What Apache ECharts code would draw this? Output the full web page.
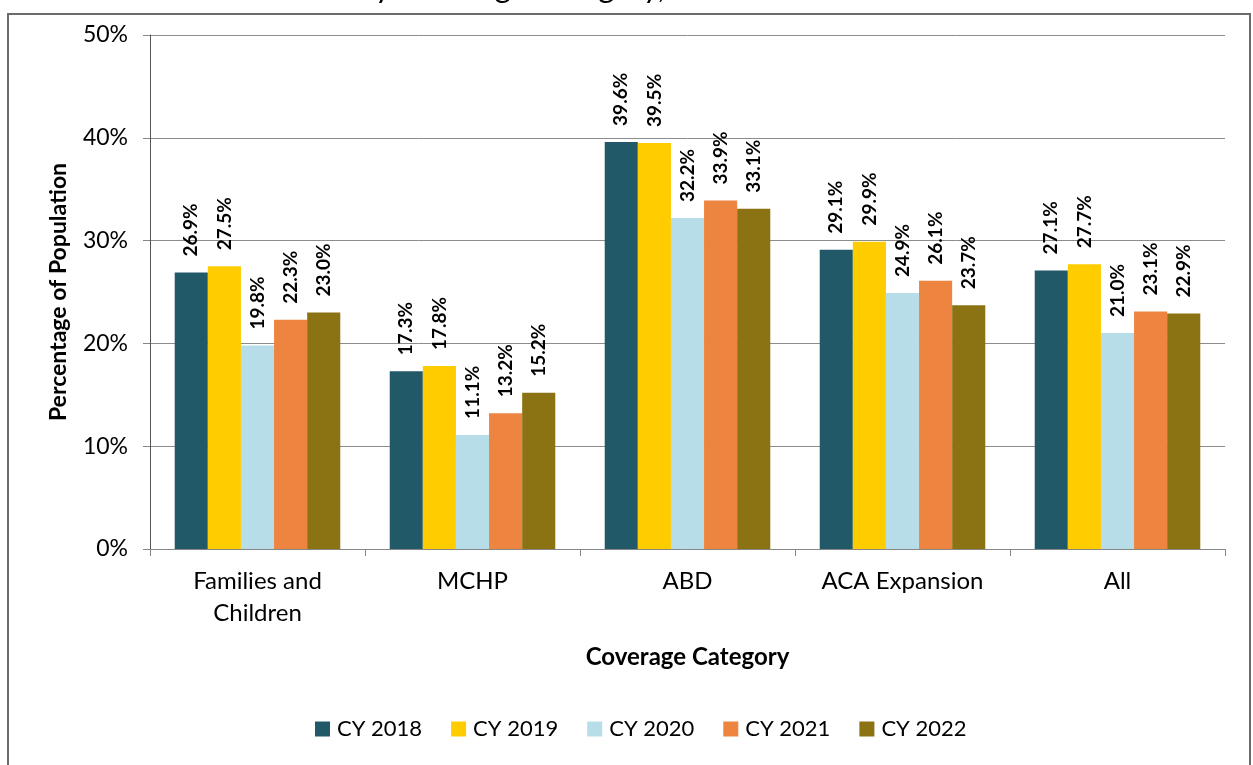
<!DOCTYPE html>
<html style="height: 100%">
   <head>
       <meta charset="utf-8">
   </head>
   <body style="height: 100%; margin: 0; background: #fff">
       <div id="container" style="width: 1253px; height: 765px"></div>
       <script type="text/javascript" src="https://cdn.jsdelivr.net/npm/echarts@6/dist/echarts.min.js"></script>
       <script type="text/javascript">
var categories = ['Families and\nChildren', 'MCHP', 'ABD', 'ACA Expansion', 'All'];
var years = ['CY 2018', 'CY 2019', 'CY 2020', 'CY 2021', 'CY 2022'];
var colors = ['#215968', '#FFCC00', '#B7DEE8', '#ED843F', '#8B7213'];
// values per year, one per category (percent)
var cy2018 = [26.9, 17.3, 39.6, 29.1, 27.1];
var cy2019 = [27.5, 17.8, 39.5, 29.9, 27.7];
var cy2020 = [19.8, 11.1, 32.2, 24.9, 21.0];
var cy2021 = [22.3, 13.2, 33.9, 26.1, 23.1];
var cy2022 = [23.0, 15.2, 33.1, 23.7, 22.9];
var values = [cy2018, cy2019, cy2020, cy2021, cy2022];

var font = 'Lato, "Open Sans", sans-serif';
var dom = document.getElementById("container");
var myChart = echarts.init(dom);

var series = [];
for (var i = 0; i < years.length; i++) {
    series.push({
        name: years[i],
        type: 'bar',
        data: values[i],
        barGap: '0%',
        barCategoryGap: '23%',
        itemStyle: { color: colors[i] },
        label: {
            show: true,
            position: 'top',
            rotate: 90,
            align: 'left',
            verticalAlign: 'middle',
            distance: 16,
            fontFamily: font,
            fontWeight: 'bold',
            fontSize: 19,
            color: '#000',
            formatter: function (p) { return p.value.toFixed(1) + '%'; }
        }
    });
}

var option = {
    animation: false,
    color: colors,
    graphic: [
        {
            type: 'rect',
            shape: { x: 8, y: 14, width: 1242, height: 780 },
            style: { fill: 'none', stroke: '#6b6b6b', lineWidth: 2 }
        },
        {
            // title sits mostly above the page edge, only descenders show
            type: 'text',
            style: {
                x: 358, y: 3,
                text: 'by Coverage Category, CY 2018 - CY 2022',
                font: '31px ' + font,
                fill: '#000',
                textVerticalAlign: 'bottom'
            }
        }
    ],
    legend: {
        data: years,
        bottom: 20,
        left: 310,
        itemWidth: 15,
        itemHeight: 15,
        itemGap: 29,
        icon: 'rect',
        textStyle: { fontFamily: font, fontSize: 22, color: '#000', padding: [0, 0, 0, 2] }
    },
    grid: { left: 150, right: 28, top: 35, bottom: 216 },
    xAxis: {
        type: 'category',
        data: categories,
        name: 'Coverage Category',
        nameLocation: 'middle',
        nameGap: 96,
        nameTextStyle: { fontFamily: font, fontSize: 24, fontWeight: 'bold', color: '#000' },
        axisLine: { lineStyle: { color: '#868686', width: 1 } },
        axisTick: { show: true, length: 7, lineStyle: { color: '#868686' } },
        axisLabel: { fontFamily: font, fontSize: 24, color: '#000', margin: 16, lineHeight: 32, interval: 0 }
    },
    yAxis: {
        type: 'value',
        min: 0,
        max: 50,
        interval: 10,
        name: 'Percentage of Population',
        nameLocation: 'middle',
        nameGap: 80,
        nameTextStyle: { fontFamily: font, fontSize: 23, fontWeight: 'bold', color: '#000' },
        axisLine: { show: true, lineStyle: { color: '#555', width: 1 } },
        axisTick: { show: true, length: 7, lineStyle: { color: '#868686' } },
        axisLabel: { fontFamily: font, fontSize: 23, color: '#000', margin: 22, formatter: '{value}%' },
        splitLine: { lineStyle: { color: '#8c8c8c', width: 1 } }
    },
    series: series
};

myChart.setOption(option, true);
       </script>
   </body>
</html>
